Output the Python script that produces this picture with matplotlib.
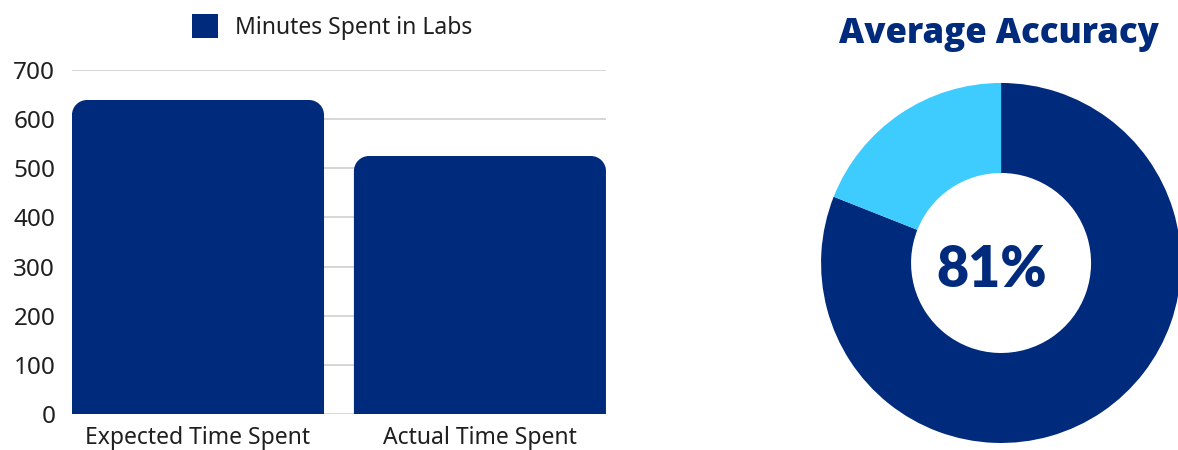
import numpy as np
import matplotlib
matplotlib.use('Agg')
import matplotlib.pyplot as plt
from matplotlib.path import Path
from matplotlib.patches import PathPatch, Patch

# bar chart data
categories = ['Expected Time Spent', 'Actual Time Spent']
minutes = [639, 525]
series_name = 'Minutes Spent in Labs'
y_ticks = [0, 100, 200, 300, 400, 500, 600, 700]

# donut data
donut_title = 'Average Accuracy'
donut_parts = [81, 19]
donut_label = '81%'

navy = '#002b7c'
sky = '#3ecbfe'
grid_c = '#cfcfcf'
text_c = '#1f1f1f'

plt.rcParams['font.family'] = ['Noto Sans', 'DejaVu Sans']

fig = plt.figure(figsize=(11.78, 4.5), dpi=100)

#----------------------------------------------------------
# left: bars with rounded tops
ax = fig.add_axes([0.0611, 0.08, 0.4533, 0.7644])
bw = 0.894
x = np.arange(len(categories))
bars = ax.bar(x, minutes, width=bw, color=navy, zorder=3)
ax.set_xlim(-bw / 2, len(categories) - 1 + bw / 2)
ax.set_ylim(0, y_ticks[-1])

# corner radius 15px -> data units
p0 = ax.transData.transform((0, 0))
p1 = ax.transData.transform((1, 100))
rx = 15 / (p1[0] - p0[0])
ry = 15 / (p1[1] - p0[1]) * 100
k = 0.5523

for b in bars:
    x0, y0 = b.get_x(), b.get_y()
    x1, top = x0 + b.get_width(), y0 + b.get_height()
    verts = [(x0, y0), (x0, top - ry),
             (x0, top - ry * (1 - k)), (x0 + rx * (1 - k), top), (x0 + rx, top),
             (x1 - rx, top),
             (x1 - rx * (1 - k), top), (x1, top - ry * (1 - k)), (x1, top - ry),
             (x1, y0), (x0, y0)]
    codes = [Path.MOVETO, Path.LINETO,
             Path.CURVE4, Path.CURVE4, Path.CURVE4,
             Path.LINETO,
             Path.CURVE4, Path.CURVE4, Path.CURVE4,
             Path.LINETO, Path.CLOSEPOLY]
    ax.add_patch(PathPatch(Path(verts, codes), facecolor=navy, edgecolor='none', zorder=3))
    b.set_visible(False)

ax.set_yticks(y_ticks)
ax.set_xticks(x)
ax.set_xticklabels(categories)
ax.yaxis.grid(True, color=grid_c, lw=1.2)
ax.set_axisbelow(True)
for s in ax.spines.values():
    s.set_visible(False)
ax.tick_params(axis='y', length=0, pad=12, labelsize=17.5, labelcolor=text_c)
ax.tick_params(axis='x', length=0, pad=9, labelsize=16.5, labelcolor=text_c)

fig.legend(handles=[Patch(facecolor=navy, label=series_name)], loc='center',
           bbox_to_anchor=(0.282, 0.94), frameon=False, fontsize=16.5,
           handlelength=1.15, handleheight=1.2, handletextpad=0.75, labelcolor=text_c)

#----------------------------------------------------------
# right: donut
ax2 = fig.add_axes([0.697, 0.0156, 0.3056, 0.8])
ax2.pie(donut_parts, colors=[navy, sky], startangle=90, counterclock=False,
        radius=1, wedgeprops=dict(width=0.5, linewidth=0))
ax2.set_xlim(-1, 1)
ax2.set_ylim(-1, 1)
ax2.set_aspect('equal')
ax2.axis('off')
ax2.text(-0.05, -0.133, donut_label, ha='center', va='baseline', fontsize=40,
         fontweight='heavy', color=navy, family=['Lato', 'DejaVu Sans'])

fig.text(0.848, 0.9044, donut_title, ha='center', va='baseline', fontsize=25,
         fontweight='heavy', color=navy, family=['Open Sans', 'DejaVu Sans'])

fig.savefig('out.png', dpi=100)
